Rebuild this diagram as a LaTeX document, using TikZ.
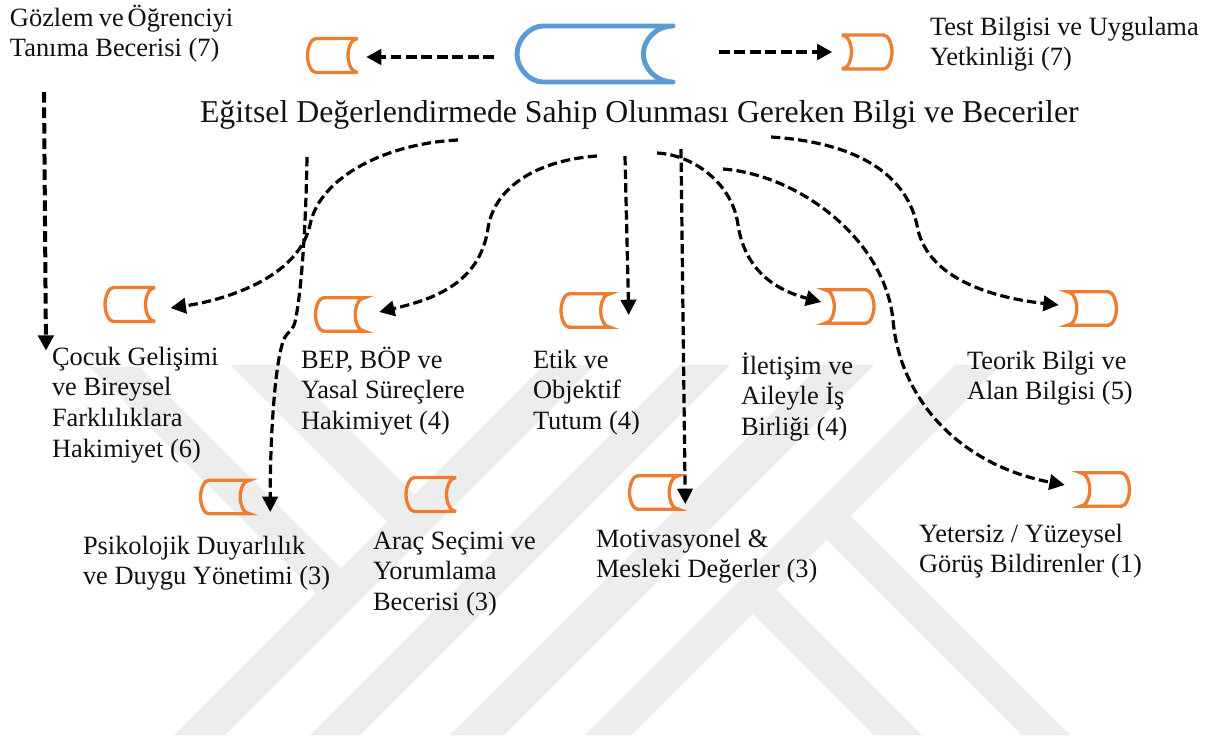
\documentclass[tikz,border=0pt]{standalone}
\usepackage{fontspec}
\setmainfont{Liberation Serif}
\usetikzlibrary{arrows.meta}
\newcommand\lab[1]{\vtop{\baselineskip=23.2pt \lineskiplimit=-100pt #1}}
\tikzset{
  x=0.75pt,y=-0.75pt,
  wm/.style={fill=wmgrey,draw=none},
  txt/.style={anchor=base west,inner sep=0pt,outer sep=0pt,font=\fontsize{19.8pt}{23.2pt}\selectfont,text=ink},
  ttl/.style={anchor=base west,inner sep=0pt,outer sep=0pt,font=\fontsize{23.85pt}{27pt}\selectfont,text=ink},
  orangeflat/.style={draw=orng,line width=2.5pt,line join=bevel},
  orangeline/.style={draw=orng,line width=2.5pt,miter limit=6},
  blueline/.style={draw=blu,line width=3.7pt,line cap=round,line join=round},
  conn/.style={draw=black,line width=2.4pt,dash pattern=on 7pt off 3.2pt,-{Triangle[length=11.5pt,width=11.5pt]}},
  connthick/.style={conn,line width=3pt,dash pattern=on 8pt off 3.6pt},
  pics/scrollleft/.style args={#1/#2/#3}{code={
    \path[#3] (#1*0.5,-#2*0.5) -- (-#1*0.3333,-#2*0.5)
      .. controls (-#1*0.42,-#2*0.5) and (-#1*0.5,-#2*0.25) .. (-#1*0.5,0)
      .. controls (-#1*0.5,#2*0.25) and (-#1*0.42,#2*0.5) .. (-#1*0.3333,#2*0.5)
      -- (#1*0.5,#2*0.5)
      .. controls (#1*0.39,#2*0.5) and (#1*0.31,#2*0.25) .. (#1*0.31,0)
      .. controls (#1*0.31,-#2*0.25) and (#1*0.39,-#2*0.5) .. (#1*0.5,-#2*0.5) -- cycle;
  }},
  pics/scrollright/.style args={#1/#2/#3}{code={
    \path[#3] (-#1*0.5,-#2*0.5) -- (#1*0.3333,-#2*0.5)
      .. controls (#1*0.42,-#2*0.5) and (#1*0.5,-#2*0.25) .. (#1*0.5,0)
      .. controls (#1*0.5,#2*0.25) and (#1*0.42,#2*0.5) .. (#1*0.3333,#2*0.5)
      -- (-#1*0.5,#2*0.5)
      .. controls (-#1*0.39,#2*0.5) and (-#1*0.31,#2*0.25) .. (-#1*0.31,0)
      .. controls (-#1*0.31,-#2*0.25) and (-#1*0.39,-#2*0.5) .. (-#1*0.5,-#2*0.5) -- cycle;
  }},
}
\definecolor{wmgrey}{HTML}{EDEDED}
\definecolor{orng}{HTML}{ED7D31}
\definecolor{blu}{HTML}{5B9BD5}
\definecolor{ink}{HTML}{111111}
\begin{document}
\begin{tikzpicture}
\useasboundingbox (0,0) rectangle (1208,740);
\fill[white] (0,0) rectangle (1208,740);
% watermark
\fill[wm] (544,365) -- (595,365) -- (225,735) -- (174,735) -- cycle;
\fill[wm] (680,365) -- (730,365) -- (360,735) -- (310,735) -- cycle;
\fill[wm] (820,365) -- (874,365) -- (504,735) -- (450,735) -- cycle;
\fill[wm] (955,365) -- (1001,365) -- (631,735) -- (585,735) -- cycle;
\fill[wm] (90,367) -- (140,367) -- (341,568) -- (316,593) -- cycle;
\fill[wm] (231,365) -- (285,365) -- (414.5,494.5) -- (387.5,521.5) -- cycle;
\fill[wm] (874,735) -- (922,735) -- (776.5,589.5) -- (752.5,613.5) -- cycle;
\fill[wm] (1022,735) -- (1070,735) -- (850.5,515.5) -- (826.5,539.5) -- cycle;
% scroll shapes: named nodes hold the positions
\node[inner sep=0,minimum width=117pt,minimum height=42pt] (blue) at (595,54) {};
\pic at (blue.center) {scrollleft={156/56/blueline}};
\foreach \n/\cx/\cy in {nTL/332.5/55.5,nCoc/130/304.5,nArac/431/494.5}{
  \node[inner sep=0,minimum width=38pt,minimum height=26.5pt] (\n) at (\cx,\cy) {};
  \pic at (\n.center) {scrollleft={50/34/orangeflat}};
}
\foreach \n/\cx/\cy in {nBep/340/314.5,nEtik/585.5/310.5,nPsi/225/497,nMot/654/492.5}{
  \node[inner sep=0,minimum width=37.5pt,minimum height=26.5pt] (\n) at (\cx,\cy) {};
  \pic at (\n.center) {scrollleft={49/33.5/orangeline}};
}
\node[inner sep=0,minimum width=38pt,minimum height=26.5pt] (nTest) at (867,52) {};
\pic at (nTest.center) {scrollright={50/34/orangeflat}};
\foreach \n/\cx/\cy in {nIle/849.5/306.5,nTeo/1092/308.5,nYet/1105/489.5}{
  \node[inner sep=0,minimum width=37.5pt,minimum height=26.5pt] (\n) at (\cx,\cy) {};
  \pic at (\n.center) {scrollright={49/33.5/orangeline}};
}
% labels
\node[ttl] (title) at (200,122) {Eğitsel Değerlendirmede Sahip Olunması Gereken Bilgi ve Beceriler};
\node[txt] (lGoz) at (10,26) {\lab{\hbox{Gözlem\kern-1pt{} ve\kern-2pt{} Öğrenciyi}\hbox{Tanıma Becerisi (7)}}};
\node[txt] (lTest) at (930,35) {\lab{\hbox{Test Bilgisi ve Uygulama}\hbox{Yetkinliği (7)}}};
\node[txt] (lCoc) at (52,365) {\lab{\hbox{Çocuk Gelişimi}\hbox{ve Bireysel}\hbox{Farklılıklara}\hbox{Hakimiyet (6)}}};
\node[txt] (lBep) at (301,368) {\lab{\hbox{BEP, BÖP ve}\hbox{Yasal Süreçlere}\hbox{Hakimiyet (4)}}};
\node[txt] (lEtik) at (533,368) {\lab{\hbox{Etik ve}\hbox{Objektif}\hbox{Tutum (4)}}};
\node[txt] (lIle) at (741,374) {\lab{\hbox{İletişim ve}\hbox{Aileyle İş}\hbox{Birliği (4)}}};
\node[txt] (lTeo) at (967,369) {\lab{\hbox{Teorik Bilgi ve}\hbox{Alan Bilgisi (5)}}};
\node[txt] (lPsi) at (83,554) {\lab{\hbox{Psikolojik Duyarlılık}\hbox{ve Duygu Yönetimi (3)}}};
\node[txt] (lArac) at (373,549) {\lab{\hbox{Araç Seçimi ve}\hbox{Yorumlama}\hbox{Becerisi (3)}}};
\node[txt] (lMot) at (596,547) {\lab{\hbox{Motivasyonel \&}\hbox{Mesleki Değerler (3)}}};
\node[txt] (lYet) at (919,542) {\lab{\hbox{Yetersiz / Yüzeysel}\hbox{Görüş Bildirenler (1)}}};
% free starts of connectors
\coordinate (sTL) at (494,57);
\coordinate (sTR) at (719,52);
\coordinate (sGoz) at (44,92);
\coordinate (sCoc) at (458,140);
\coordinate (sPsi) at (307,157);
\coordinate (sBep) at (597,156);
\coordinate (sEtik) at (625,156);
\coordinate (sIle) at (657,153);
\coordinate (sMot) at (681,149);
\coordinate (sYet) at (723,169);
\coordinate (sTeo) at (771,137);
% connectors
\draw[connthick] (sTL) -- ([shift={(8,1.5)}]nTL.east);
\draw[connthick] (sTR) -- ([shift={(-9,0)}]nTest.west);
\draw[connthick] (sGoz) -- ([shift={(-6,4)}]lCoc.north west);
\draw[conn] (sCoc) .. controls (390,143) and (320,175) .. (310,225)
   .. controls (298,278) and (225,300) .. ([shift={(15,3.5)}]nCoc.east);
\draw[conn] (sPsi) .. controls (306,220) and (302,290) .. (295,322)
   .. controls (293,330) and (288,332) .. (285,337)
   .. controls (275,355) and (270,440) .. ([shift={(20,15)}]nPsi.east);
\draw[conn] (sBep) .. controls (540,160) and (495,185) .. (488,228)
   .. controls (480,285) and (430,300) .. ([shift={(14,-2.5)}]nBep.east);
\draw[conn] (sEtik) -- ([shift={(18,4.5)}]nEtik.east);
\draw[conn] (sIle) .. controls (695,155) and (733,185) .. (738,225)
   .. controls (745,270) and (775,290) .. ([shift={(-3,-4.5)}]nIle.west);
\draw[conn] (sMot) -- ([shift={(6,11.5)}]nMot.east);
\draw[conn] (sYet) .. controls (800,175) and (885,240) .. (893,320)
   .. controls (900,400) and (960,465) .. ([shift={(-15,-4.5)}]nYet.west);
\draw[conn] (sTeo) .. controls (850,142) and (905,170) .. (917,225)
   .. controls (925,275) and (985,297) .. ([shift={(-8,-3.5)}]nTeo.west);
\end{tikzpicture}
\end{document}
